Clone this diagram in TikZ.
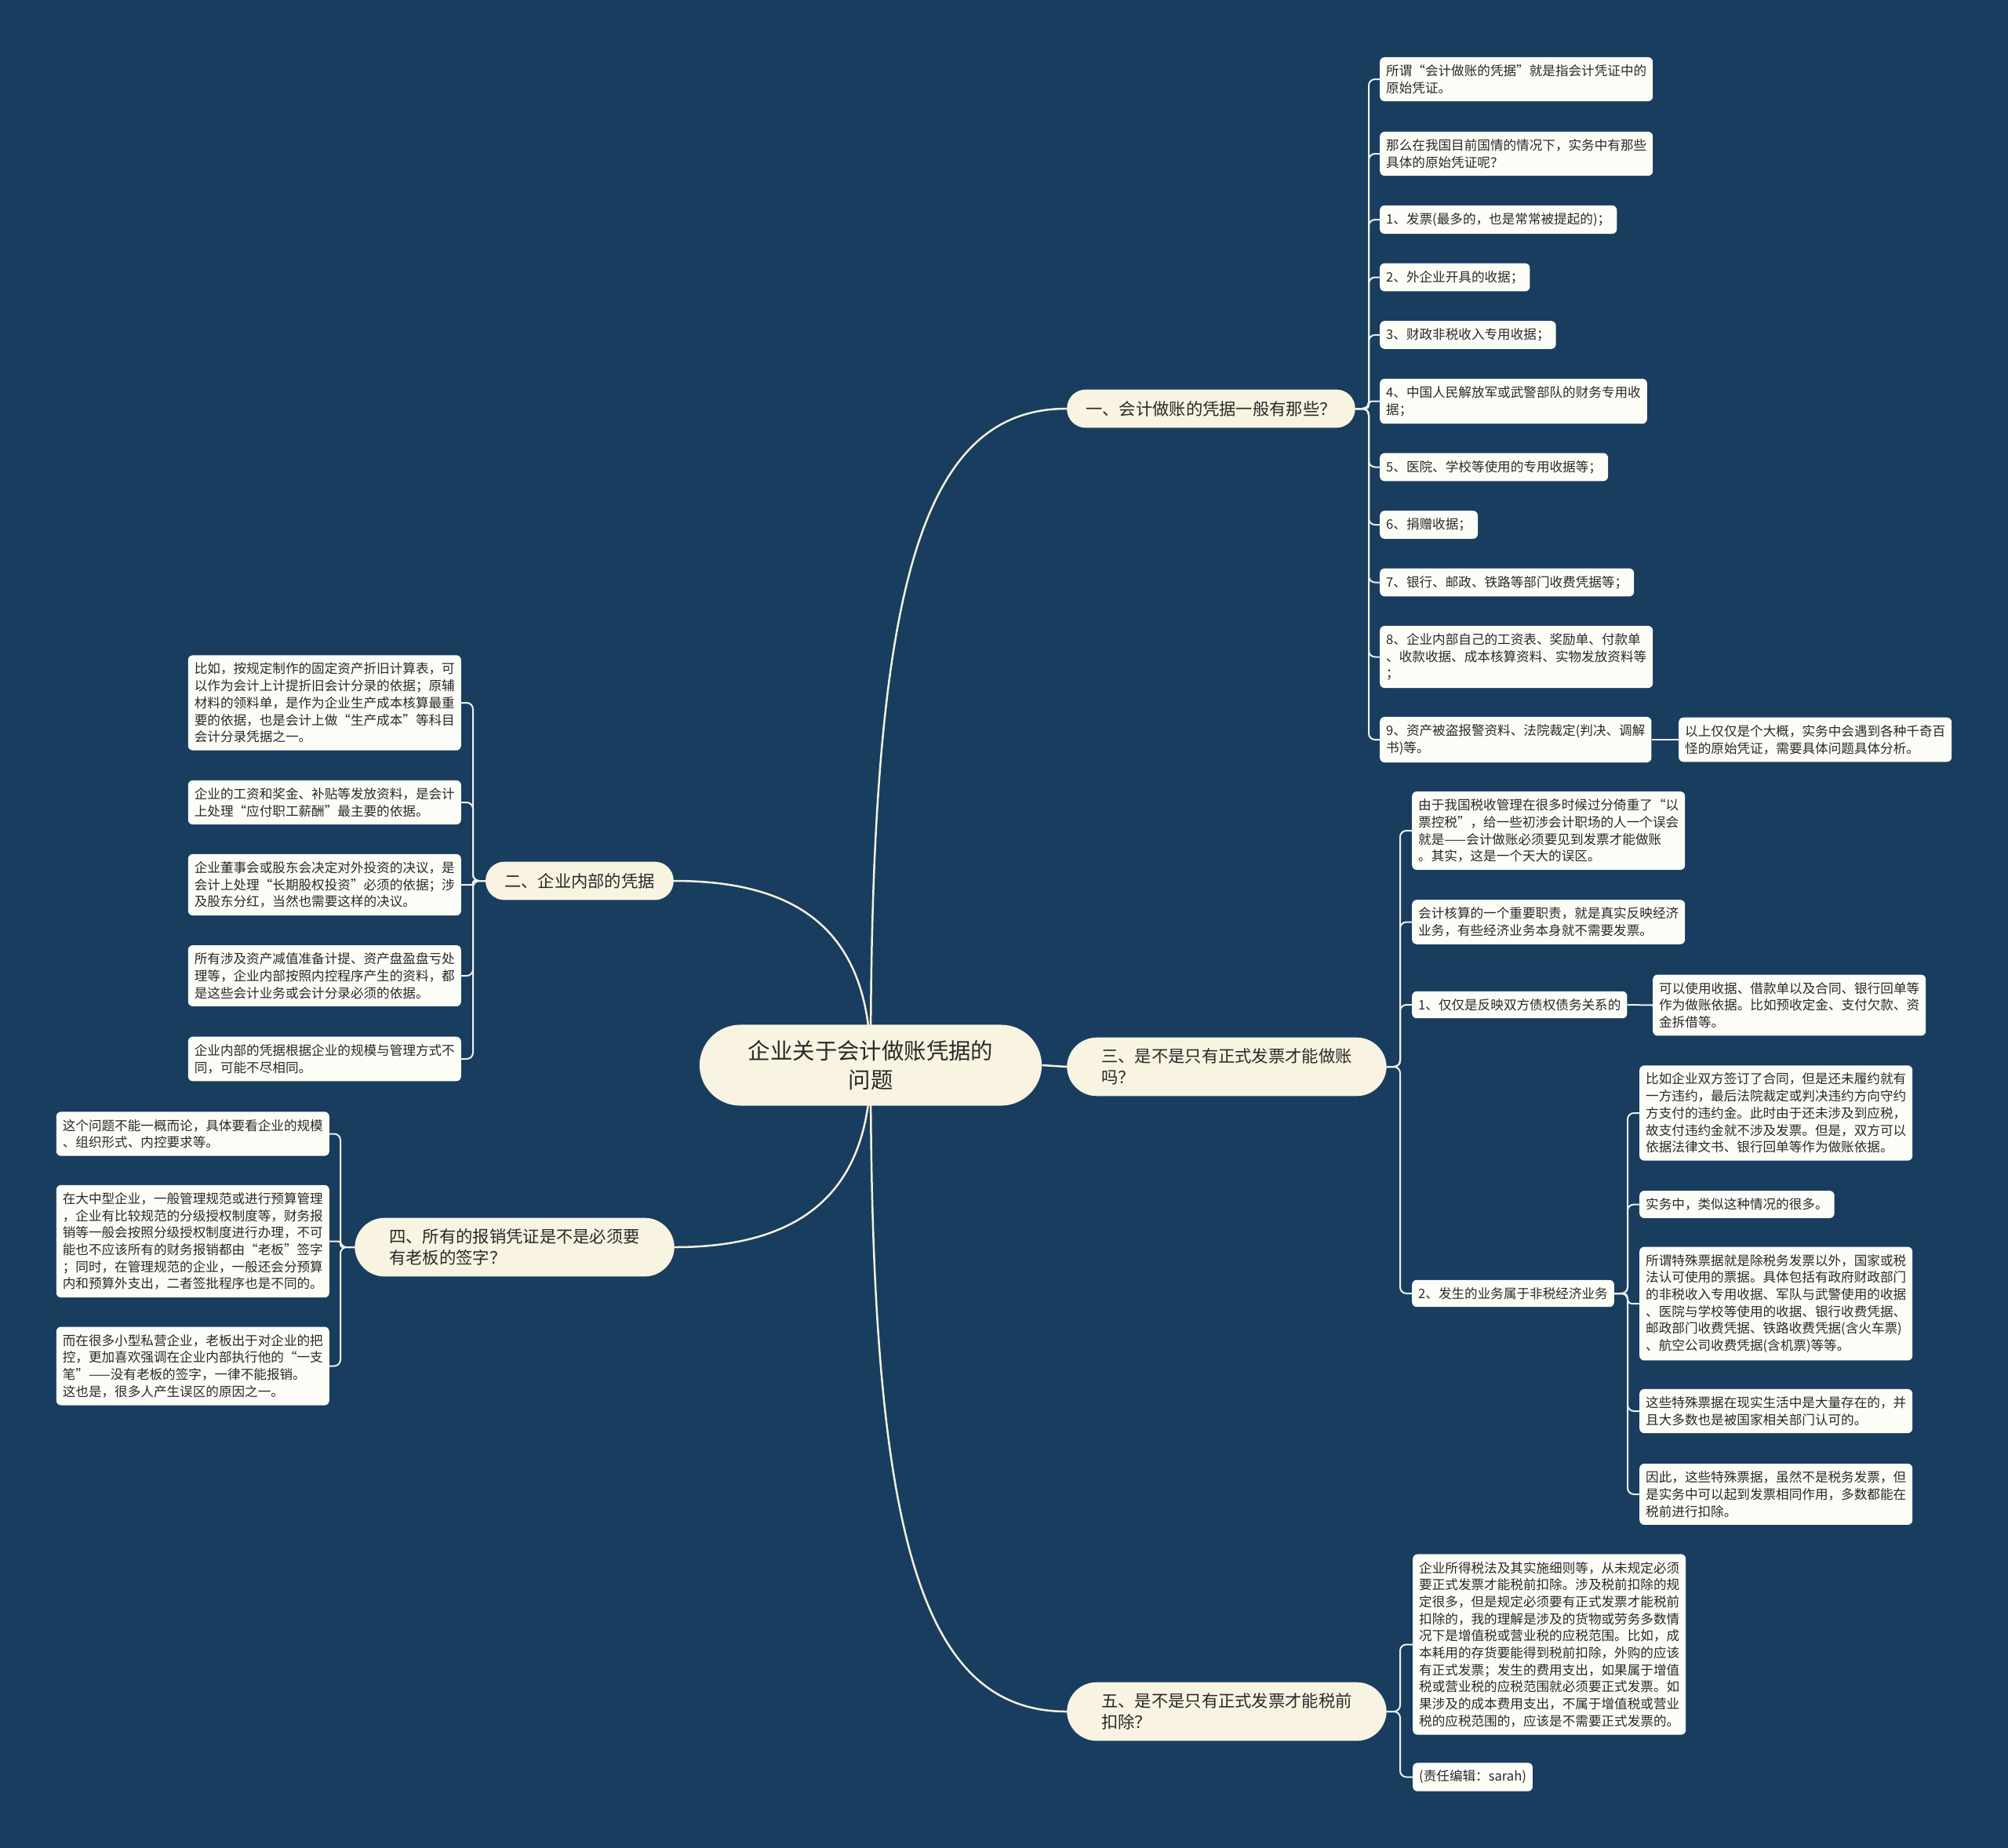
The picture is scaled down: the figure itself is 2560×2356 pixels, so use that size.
\documentclass[tikz,border=0pt]{standalone}
\usepackage{fontspec}
\newfontfamily\cjk{Noto Sans CJK SC}
\usetikzlibrary{calc}
\definecolor{bgc}{RGB}{24,61,94}
\definecolor{cream}{RGB}{248,244,225}
\definecolor{leaffill}{RGB}{253,253,248}
\definecolor{txt}{RGB}{40,40,40}
\definecolor{mainc}{RGB}{245,241,222}
\definecolor{linec}{RGB}{240,240,236}
\newcommand\leaffont{\cjk\fontsize{16.6pt}{21.7pt}\selectfont}
\newcommand\branchfont{\cjk\fontsize{21.3pt}{27pt}\selectfont}
\newcommand\rootfont{\cjk\fontsize{28.4pt}{36.7pt}\selectfont}
\pgfdeclarelayer{bgl}
\pgfdeclarelayer{edges}
\pgfsetlayers{bgl,edges,main}
\tikzset{
  leaf/.style={fill=leaffill, rounded corners=6pt, align=left, inner xsep=8pt, inner ysep=9.5pt, font=\leaffont, text=txt},
  leafR/.style={leaf, anchor=west},
  leafL/.style={leaf, anchor=east},
  branch/.style={fill=cream, align=left, font=\branchfont, text=txt},
  branchone/.style={branch, rounded corners=24pt, inner xsep=24pt, inner ysep=14.5pt},
  branchtwo/.style={branch, rounded corners=38pt, inner xsep=44pt, inner ysep=14pt},
  rootnode/.style={fill=cream, align=center, font=\rootfont, text=txt, rounded corners=52pt, inner xsep=62pt, inner ysep=20pt},
  mainline/.style={draw=mainc, line width=2.5pt},
  leafline/.style={draw=linec, line width=2pt, rounded corners=8pt},
}
\begin{document}
\begin{tikzpicture}[x=1pt,y=-1pt]
\begin{pgfonlayer}{bgl}
\fill[bgc] (0,0) rectangle (2560,2356);
\end{pgfonlayer}
\useasboundingbox (0,0) rectangle (2560,2356);

% root
\node[rootnode] (R) at (1110,1358) {企业关于会计做账凭据的\\问题};

% branches
\node[branchone, anchor=west] (B1) at (1360,521) {一、会计做账的凭据一般有那些？};
\node[branchtwo, anchor=west] (B3) at (1360,1360) {三、是不是只有正式发票才能做账\\吗？};
\node[branchtwo, anchor=west] (B5) at (1360,2182) {五、是不是只有正式发票才能税前\\扣除？};
\node[branchone, anchor=east] (B2) at (859,1123) {二、企业内部的凭据};
\node[branchtwo, anchor=east] (B4) at (860,1590) {四、所有的报销凭证是不是必须要\\有老板的签字？};

% B1 leaves
\node[leafR] (L1a) at (1759,101) {所谓“会计做账的凭据”就是指会计凭证中的\\原始凭证。};
\node[leafR] (L1b) at (1759,196) {那么在我国目前国情的情况下，实务中有那些\\具体的原始凭证呢？};
\node[leafR] (L1c) at (1759,280) {1、发票(最多的，也是常常被提起的)；};
\node[leafR] (L1d) at (1759,353.5) {2、外企业开具的收据；};
\node[leafR] (L1e) at (1759,427) {3、财政非税收入专用收据；};
\node[leafR] (L1f) at (1759,511.5) {4、中国人民解放军或武警部队的财务专用收\\据；};
\node[leafR] (L1g) at (1759,595.5) {5、医院、学校等使用的专用收据等；};
\node[leafR] (L1h) at (1759,669) {6、捐赠收据；};
\node[leafR] (L1i) at (1759,742.5) {7、银行、邮政、铁路等部门收费凭据等；};
\node[leafR] (L1j) at (1759,837.5) {8、企业内部自己的工资表、奖励单、付款单\\、收款收据、成本核算资料、实物发放资料等\\；};
\node[leafR] (L1k) at (1759,943) {9、资产被盗报警资料、法院裁定(判决、调解\\书)等。};
\node[leafR] (L1l) at (2140,943) {以上仅仅是个大概，实务中会遇到各种千奇百\\怪的原始凭证，需要具体问题具体分析。};

% B3 leaves
\node[leafR] (L3a) at (1800,1059) {由于我国税收管理在很多时候过分倚重了“以\\票控税”，给一些初涉会计职场的人一个误会\\就是——会计做账必须要见到发票才能做账\\。其实，这是一个天大的误区。};
\node[leafR] (L3b) at (1800,1175.5) {会计核算的一个重要职责，就是真实反映经济\\业务，有些经济业务本身就不需要发票。};
\node[leafR] (L3c) at (1800,1281) {1、仅仅是反映双方债权债务关系的};
\node[leafR] (L3c1) at (2107,1281.5) {可以使用收据、借款单以及合同、银行回单等\\作为做账依据。比如预收定金、支付欠款、资\\金拆借等。};
\node[leafR] (L3d) at (1800,1649) {2、发生的业务属于非税经济业务};
\node[leafR] (L3d1) at (2090,1419) {比如企业双方签订了合同，但是还未履约就有\\一方违约，最后法院裁定或判决违约方向守约\\方支付的违约金。此时由于还未涉及到应税，\\故支付违约金就不涉及发票。但是，双方可以\\依据法律文书、银行回单等作为做账依据。};
\node[leafR] (L3d2) at (2090,1535.5) {实务中，类似这种情况的很多。};
\node[leafR] (L3d3) at (2090,1662) {所谓特殊票据就是除税务发票以外，国家或税\\法认可使用的票据。具体包括有政府财政部门\\的非税收入专用收据、军队与武警使用的收据\\、医院与学校等使用的收据、银行收费凭据、\\邮政部门收费凭据、铁路收费凭据(含火车票)\\、航空公司收费凭据(含机票)等等。};
\node[leafR] (L3d4) at (2090,1799) {这些特殊票据在现实生活中是大量存在的，并\\且大多数也是被国家相关部门认可的。};
\node[leafR] (L3d5) at (2090,1905) {因此，这些特殊票据，虽然不是税务发票，但\\是实务中可以起到发票相同作用，多数都能在\\税前进行扣除。};

% B5 leaves
\node[leafR] (L5a) at (1801,2096.5) {企业所得税法及其实施细则等，从未规定必须\\要正式发票才能税前扣除。涉及税前扣除的规\\定很多，但是规定必须要有正式发票才能税前\\扣除的，我的理解是涉及的货物或劳务多数情\\况下是增值税或营业税的应税范围。比如，成\\本耗用的存货要能得到税前扣除，外购的应该\\有正式发票；发生的费用支出，如果属于增值\\税或营业税的应税范围就必须要正式发票。如\\果涉及的成本费用支出，不属于增值税或营业\\税的应税范围的，应该是不需要正式发票的。};
\node[leafR] (L5b) at (1801,2265.5) {(责任编辑：sarah)};

% B2 leaves
\node[leafL] (L2a) at (588,896) {比如，按规定制作的固定资产折旧计算表，可\\以作为会计上计提折旧会计分录的依据；原辅\\材料的领料单，是作为企业生产成本核算最重\\要的依据，也是会计上做“生产成本”等科目\\会计分录凭据之一。};
\node[leafL] (L2b) at (588,1023) {企业的工资和奖金、补贴等发放资料，是会计\\上处理“应付职工薪酬”最主要的依据。};
\node[leafL] (L2c) at (588,1128) {企业董事会或股东会决定对外投资的决议，是\\会计上处理“长期股权投资”必须的依据；涉\\及股东分红，当然也需要这样的决议。};
\node[leafL] (L2d) at (588,1244) {所有涉及资产减值准备计提、资产盘盈盘亏处\\理等，企业内部按照内控程序产生的资料，都\\是这些会计业务或会计分录必须的依据。};
\node[leafL] (L2e) at (588,1350) {企业内部的凭据根据企业的规模与管理方式不\\同，可能不尽相同。};

% B4 leaves
\node[leafL] (L4a) at (420,1445.5) {这个问题不能一概而论，具体要看企业的规模\\、组织形式、内控要求等。};
\node[leafL] (L4b) at (420,1582.5) {在大中型企业，一般管理规范或进行预算管理\\，企业有比较规范的分级授权制度等，财务报\\销等一般会按照分级授权制度进行办理，不可\\能也不应该所有的财务报销都由“老板”签字\\；同时，在管理规范的企业，一般还会分预算\\内和预算外支出，二者签批程序也是不同的。};
\node[leafL] (L4c) at (420,1741.5) {而在很多小型私营企业，老板出于对企业的把\\控，更加喜欢强调在企业内部执行他的“一支\\笔”——没有老板的签字，一律不能报销。\\这也是，很多人产生误区的原因之一。};

% spine coordinates
\coordinate (s1) at (1745,521);
\coordinate (s3) at (1785,1360);
\coordinate (s3d) at (2075,1649);
\coordinate (s5) at (1785,2182);
\coordinate (s2) at (603,1123);
\coordinate (s4) at (434,1590);

\begin{pgfonlayer}{edges}
\draw[mainline] (R.center) .. controls (1110,760) and (1170,521) .. (B1.west);
\draw[mainline] (R.east) -- (B3.west);
\draw[mainline] (R.center) .. controls (1110,1947) and (1170,2182) .. (B5.west);
\draw[mainline] (R.center) .. controls (1110,1180) and (1010,1123) .. (B2.east);
\draw[mainline] (R.center) .. controls (1110,1530) and (1010,1590) .. (B4.east);

\foreach \n in {L1a,L1b,L1c,L1d,L1e,L1g,L1h,L1i,L1j,L1k}
  \draw[leafline] (B1.east) -- (s1) |- (\n.west);
\draw[leafline, rounded corners=4pt] (B1.east) -- (s1) |- (L1f.west);
\draw[leafline] (L1k.east) -- (L1l.west);

\foreach \n in {L3a,L3b,L3c,L3d}
  \draw[leafline] (B3.east) -- (s3) |- (\n.west);
\draw[leafline] (L3c.east) -- (L3c1.west);
\foreach \n in {L3d1,L3d2,L3d4,L3d5}
  \draw[leafline] (L3d.east) -- (s3d) |- (\n.west);
\draw[leafline, rounded corners=5pt] (L3d.east) -- (s3d) |- (L3d3.west);

\foreach \n in {L5a,L5b}
  \draw[leafline] (B5.east) -- (s5) |- (\n.west);

\foreach \n in {L2a,L2b,L2d,L2e}
  \draw[leafline] (B2.west) -- (s2) |- (\n.east);
\draw[leafline, rounded corners=2pt] (B2.west) -- (s2) |- (L2c.east);

\foreach \n in {L4a,L4c}
  \draw[leafline] (B4.west) -- (s4) |- (\n.east);
\draw[leafline, rounded corners=3pt] (B4.west) -- (s4) |- (L4b.east);
\end{pgfonlayer}
\end{tikzpicture}
\end{document}
